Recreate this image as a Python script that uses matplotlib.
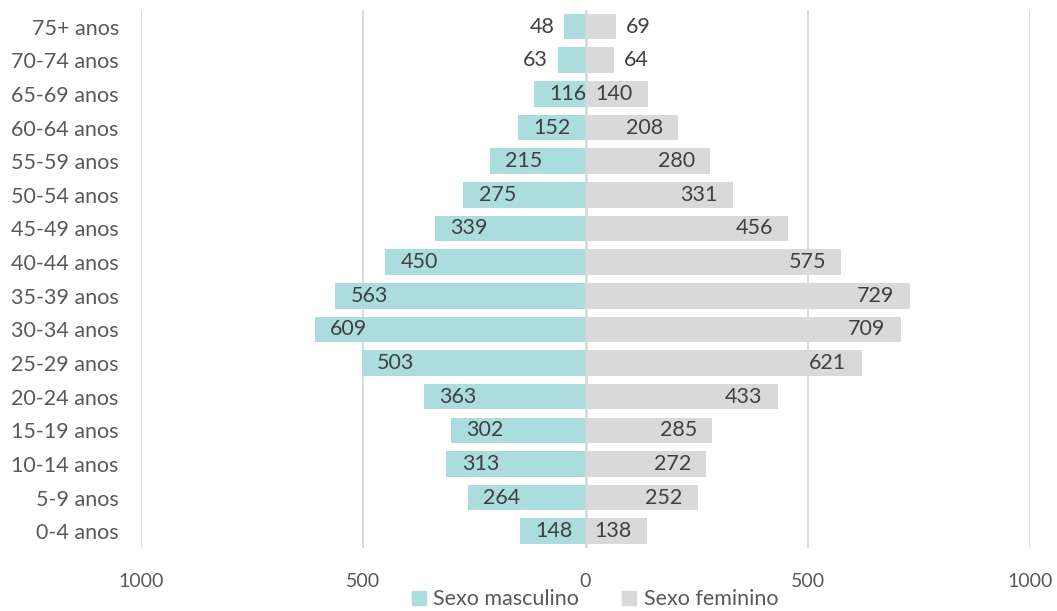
import matplotlib
matplotlib.use("Agg")
import matplotlib.pyplot as plt
from matplotlib.ticker import FuncFormatter
from matplotlib.patches import Patch

age_groups = ["0-4 anos", "5-9 anos", "10-14 anos", "15-19 anos", "20-24 anos",
              "25-29 anos", "30-34 anos", "35-39 anos", "40-44 anos", "45-49 anos",
              "50-54 anos", "55-59 anos", "60-64 anos", "65-69 anos", "70-74 anos",
              "75+ anos"]
male = [148, 264, 313, 302, 363, 503, 609, 563, 450, 339, 275, 215, 152, 116, 63, 48]
female = [138, 252, 272, 285, 433, 621, 709, 729, 575, 456, 331, 280, 208, 140, 64, 69]
x_ticks = [-1000, -500, 0, 500, 1000]

male_color = "#ABDDDF"
female_color = "#D9D9D9"
text_color = "#404040"
tick_color = "#595959"
grid_color = "#D9D9D9"

plt.rcParams["font.family"] = ["Lato", "DejaVu Sans"]

fig = plt.figure(figsize=(10.57, 6.11), dpi=100)
ax = fig.add_axes([0.1334, 0.103, 0.8411, 0.881])

y = list(range(len(age_groups)))
ax.barh(y, [-v for v in male], height=0.76, color=male_color, zorder=2)
ax.barh(y, female, height=0.76, color=female_color, zorder=2)
ax.axvline(0, color=grid_color, lw=1.8, zorder=3)

ax.set_xlim(-1000, 1000)
ax.set_ylim(-0.5, len(age_groups) - 0.5)
ax.set_xticks(x_ticks)
ax.xaxis.set_major_formatter(FuncFormatter(lambda v, p: f"{abs(int(v))}"))
ax.set_yticks(y)
ax.set_yticklabels(age_groups)
ax.tick_params(axis="both", length=0, colors=tick_color)
ax.tick_params(axis="y", labelsize=15.5, pad=16)
ax.tick_params(axis="x", labelsize=14, pad=18)
ax.grid(axis="x", color=grid_color, lw=1.3, zorder=0)
ax.set_axisbelow(True)
for s in ax.spines.values():
    s.set_visible(False)

# value labels: inside the bar end when they fit, just outside otherwise
fit_limit = 100
label_size = 15.5
for yi, m, f in zip(y, male, female):
    if m >= fit_limit:
        ax.annotate(str(m), (-m, yi), xytext=(11, 0), textcoords="offset points",
                    ha="left", va="center", fontsize=label_size, color=text_color, zorder=4)
    else:
        ax.annotate(str(m), (-m, yi), xytext=(-7, 0), textcoords="offset points",
                    ha="right", va="center", fontsize=label_size, color=text_color, zorder=4)
    if f >= fit_limit:
        ax.annotate(str(f), (f, yi), xytext=(-11, 0), textcoords="offset points",
                    ha="right", va="center", fontsize=label_size, color=text_color, zorder=4)
    else:
        ax.annotate(str(f), (f, yi), xytext=(7, 0), textcoords="offset points",
                    ha="left", va="center", fontsize=label_size, color=text_color, zorder=4)

handles = [Patch(color=male_color, label="Sexo masculino"),
           Patch(color=female_color, label="Sexo feminino")]
fig.legend(handles=handles, loc="lower center", bbox_to_anchor=(0.563, -0.029),
           ncol=2, frameon=False, fontsize=15.5, handlelength=0.65, handleheight=0.65,
           handletextpad=0.35, columnspacing=2.0, labelcolor=tick_color)

fig.savefig("out.png", dpi=100)
